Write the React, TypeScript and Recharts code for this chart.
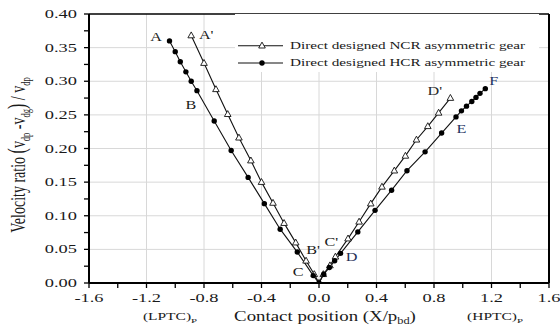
import React from 'react';
import { LineChart, Line, XAxis, YAxis, CartesianGrid, ReferenceLine, ReferenceDot } from 'recharts';

// ---- data ----
const ncrPositions = [-0.889, -0.8, -0.717, -0.635, -0.557, -0.474, -0.4, -0.32, -0.243, -0.162, -0.09, -0.033, 0, 0.03, 0.076, 0.114, 0.202, 0.279, 0.36, 0.438, 0.524, 0.601, 0.678, 0.757, 0.832, 0.914];
const ncrRatios = [0.368, 0.327, 0.288, 0.251, 0.216, 0.182, 0.15, 0.119, 0.089, 0.06, 0.033, 0.013, 0, 0.013, 0.026, 0.039, 0.066, 0.091, 0.118, 0.143, 0.167, 0.189, 0.213, 0.233, 0.253, 0.275];
const hcrPositions = [-1.04, -1.0, -0.965, -0.926, -0.889, -0.849, -0.729, -0.611, -0.493, -0.38, -0.27, -0.151, -0.04, 0, 0.033, 0.072, 0.109, 0.15, 0.27, 0.39, 0.505, 0.612, 0.738, 0.853, 0.953, 0.991, 1.026, 1.063, 1.092, 1.12, 1.157];
const hcrRatios = [0.36, 0.344, 0.329, 0.314, 0.3, 0.286, 0.241, 0.197, 0.157, 0.118, 0.08, 0.046, 0.011, 0, 0.013, 0.023, 0.033, 0.044, 0.076, 0.108, 0.138, 0.167, 0.195, 0.223, 0.247, 0.256, 0.263, 0.27, 0.276, 0.282, 0.289];

const xTickValues = [-1.6, -1.4, -1.2, -1.0, -0.8, -0.6, -0.4, -0.2, 0, 0.2, 0.4, 0.6, 0.8, 1.0, 1.2, 1.4, 1.6];
const yTickValues = [0, 0.025, 0.05, 0.075, 0.1, 0.125, 0.15, 0.175, 0.2, 0.225, 0.25, 0.275, 0.3, 0.325, 0.35, 0.375, 0.4];
const xGridValues = [-1.2, -0.8, -0.4, 0, 0.4, 0.8, 1.2];
const yGridValues = [0.05, 0.1, 0.15, 0.2, 0.25, 0.3, 0.35];

const seriesNames = ['Direct designed NCR asymmetric gear', 'Direct designed HCR asymmetric gear'];
const xAxisTitle = 'Contact position (X/p';
const xAxisTitleSub = 'bd';
const leftEndLabel = '(LPTC)';
const rightEndLabel = '(HPTC)';
const endLabelSub = 'P';

const pointLabels = [
  { text: 'A', x: -1.04, y: 0.36 },
  { text: "A'", x: -0.889, y: 0.368 },
  { text: 'B', x: -0.849, y: 0.286 },
  { text: "B'", x: -0.09, y: 0.033 },
  { text: 'C', x: -0.04, y: 0.011 },
  { text: "C'", x: 0.114, y: 0.039 },
  { text: 'D', x: 0.15, y: 0.044 },
  { text: "D'", x: 0.914, y: 0.275 },
  { text: 'E', x: 0.953, y: 0.247 },
  { text: 'F', x: 1.157, y: 0.289 },
];

// ---- styling ----
const labelStyle: Record<string, { dx: number; dy: number; color: string }> = {
  A: { dx: -13.5, dy: -4.7, color: '#1a1a1a' },
  "A'": { dx: 15, dy: -1.5, color: '#1a1a1a' },
  B: { dx: -6, dy: 13.6, color: '#1a1a1a' },
  "B'": { dx: 7, dy: -12, color: '#1a1a1a' },
  C: { dx: -15, dy: -4, color: '#1a1a1a' },
  "C'": { dx: -4, dy: -15, color: '#1a1a1a' },
  D: { dx: 11, dy: 3, color: '#1f2f55' },
  "D'": { dx: -15.6, dy: -7.8, color: '#2a2a2a' },
  E: { dx: 5.5, dy: 11.8, color: '#1f3563' },
  F: { dx: 8.4, dy: -8, color: '#1f3563' },
};

const FONT = '"Liberation Serif", "Times New Roman", serif';
const TXT = '#1a1a1a';

const ncrData = ncrPositions.map((x, i) => ({ x, ncr: ncrRatios[i] }));
const hcrData = hcrPositions.map((x, i) => ({ x, hcr: hcrRatios[i] }));

const TriangleDot = (p: any) => {
  const { cx, cy } = p;
  if (cx == null || cy == null) return null;
  return (
    <polygon
      key={`t-${p.index}`}
      points={`${cx},${cy - 3.6} ${cx - 3.3},${cy + 2.3} ${cx + 3.3},${cy + 2.3}`}
      fill="#fff"
      stroke="#111"
      strokeWidth={0.9}
    />
  );
};

const CircleDot = (p: any) => {
  const { cx, cy } = p;
  if (cx == null || cy == null) return null;
  return <circle key={`c-${p.index}`} cx={cx} cy={cy} r={2.7} fill="#000" stroke="none" />;
};

const XTick = (p: any) => {
  const { x, y, payload } = p;
  const v = payload.value;
  if (Math.round(v * 10) % 4 !== 0) return null;
  const label = Math.abs(v) < 1e-9 ? '0.0' : v.toFixed(1);
  const by = y + 12;
  return (
    <text
      x={x}
      y={by}
      textAnchor="middle"
      fontFamily={FONT}
      fontSize={11.5}
      fill={TXT}
      transform={`translate(${x},${by}) scale(1.6,1) translate(${-x},${-by})`}
    >
      {label}
    </text>
  );
};

const YTick = (p: any) => {
  const { x, y, payload } = p;
  const v = payload.value;
  if (Math.round(v * 1000) % 50 !== 0) return null;
  const ax = x - 5;
  return (
    <text
      x={ax}
      y={y}
      dy="0.35em"
      textAnchor="end"
      fontFamily={FONT}
      fontSize={11.5}
      fill={TXT}
      transform={`translate(${ax},${y}) scale(1.6,1) translate(${-ax},${-y})`}
    >
      {v.toFixed(2)}
    </text>
  );
};

const XTitle = () => (
  <g fontFamily={FONT} fill={TXT}>
    <text
      x={0}
      y={0}
      fontSize={14.5}
      textAnchor="middle"
      transform="translate(325,321) scale(1.3,1)"
    >
      {xAxisTitle}
      <tspan fontSize={9.5} dy={3}>{xAxisTitleSub}</tspan>
      <tspan dy={-3}>)</tspan>
    </text>
    <text x={0} y={0} fontSize={10} textAnchor="middle" transform="translate(170,320) scale(1.55,1)">
      {leftEndLabel}
      <tspan fontSize={7} dy={3}>{endLabelSub}</tspan>
    </text>
    <text x={0} y={0} fontSize={10} textAnchor="middle" transform="translate(495,320) scale(1.55,1)">
      {rightEndLabel}
      <tspan fontSize={7} dy={3}>{endLabelSub}</tspan>
    </text>
  </g>
);

const YTitle = () => (
  <text
    x={0}
    y={0}
    fontFamily={FONT}
    fontSize={14}
    fill={TXT}
    textAnchor="middle"
    transform="translate(25,155) rotate(-90) scale(1,1.55)"
  >
    Velocity ratio <tspan fontSize={16}>(</tspan>
    <tspan>v</tspan>
    <tspan fontSize={8.5} dy={3}>dp</tspan>
    <tspan dy={-3}> -v</tspan>
    <tspan fontSize={8.5} dy={3}>dg</tspan>
    <tspan fontSize={16} dy={-3}>)</tspan>
    <tspan> / v</tspan>
    <tspan fontSize={8.5} dy={3}>dp</tspan>
  </text>
);

const pointLabelContent = (text: string) => (props: any) => {
  const vb = props.viewBox || {};
  const s = labelStyle[text];
  const cx = vb.x + (vb.width || 0) / 2 + s.dx;
  const cy = vb.y + (vb.height || 0) / 2 + s.dy;
  return (
    <text
      x={cx}
      y={cy}
      dy="0.35em"
      textAnchor="middle"
      fontFamily={FONT}
      fontSize={13.5}
      fill={s.color}
      transform={`translate(${cx},${cy}) scale(1.2,1) translate(${-cx},${-cy})`}
    >
      {text}
    </text>
  );
};

const LegendBox = () => (
  <svg width={304} height={60} style={{ position: 'absolute', left: 235, top: 14 }}>
    <rect x={0} y={0} width={304} height={58} fill="#fff" />
    {/* NCR */}
    <line x1={3} y1={31.7} x2={48} y2={31.7} stroke="#111" strokeWidth={1.1} />
    <polygon points={`27,28.1 23.7,34 30.3,34`} fill="#fff" stroke="#111" strokeWidth={0.9} />
    <text
      x={55}
      y={31.7}
      dy="0.35em"
      fontFamily={FONT}
      fontSize={9.8}
      fill={TXT}
      transform="translate(55,31.7) scale(1.55,1) translate(-55,-31.7)"
    >
      {seriesNames[0]}
    </text>
    {/* HCR */}
    <line x1={3} y1={49} x2={48} y2={49} stroke="#111" strokeWidth={1.1} />
    <circle cx={27} cy={49} r={2.7} fill="#000" />
    <text
      x={55}
      y={49}
      dy="0.35em"
      fontFamily={FONT}
      fontSize={9.8}
      fill={TXT}
      transform="translate(55,49) scale(1.55,1) translate(-55,-49)"
    >
      {seriesNames[1]}
    </text>
  </svg>
);

export default function App() {
  return (
    <div style={{ position: 'absolute', left: 0, top: 0, width: 560, height: 326, background: '#fff' }}>
      <LineChart width={560} height={326} margin={{ top: 14, right: 11, left: 0, bottom: 0 }}>
        <CartesianGrid
          stroke="#d8d8d8"
          strokeWidth={1}
          verticalValues={xGridValues}
          horizontalValues={yGridValues}
        />
        <XAxis
          type="number"
          dataKey="x"
          domain={[-1.6, 1.6]}
          ticks={xTickValues}
          interval={0}
          allowDataOverflow
          height={43}
          axisLine={{ stroke: '#000', strokeWidth: 2 }}
          tickLine={{ stroke: '#000', strokeWidth: 1.3 }}
          tickSize={5}
          tickMargin={2}
          tick={<XTick />}
          label={{ content: () => <XTitle /> }}
        />
        <YAxis
          type="number"
          domain={[0, 0.4]}
          ticks={yTickValues}
          interval={0}
          allowDataOverflow
          width={89}
          axisLine={{ stroke: '#000', strokeWidth: 2 }}
          tickLine={{ stroke: '#000', strokeWidth: 1.3 }}
          tickSize={5}
          tickMargin={2}
          tick={<YTick />}
          label={{ content: () => <YTitle /> }}
        />
        <ReferenceLine y={0.4} stroke="#000" strokeWidth={1.6} />
        <ReferenceLine x={1.6} stroke="#000" strokeWidth={2} />
        <Line
          data={ncrData}
          dataKey="ncr"
          name={seriesNames[0]}
          stroke="#111"
          strokeWidth={1.1}
          dot={<TriangleDot />}
          activeDot={false}
          isAnimationActive={false}
        />
        <Line
          data={hcrData}
          dataKey="hcr"
          name={seriesNames[1]}
          stroke="#111"
          strokeWidth={1.1}
          dot={<CircleDot />}
          activeDot={false}
          isAnimationActive={false}
        />
        {pointLabels.map((pl) => (
          <ReferenceDot
            key={pl.text}
            x={pl.x}
            y={pl.y}
            r={1}
            fill="none"
            stroke="none"
            label={{ content: pointLabelContent(pl.text) }}
          />
        ))}
      </LineChart>
      <LegendBox />
    </div>
  );
}
